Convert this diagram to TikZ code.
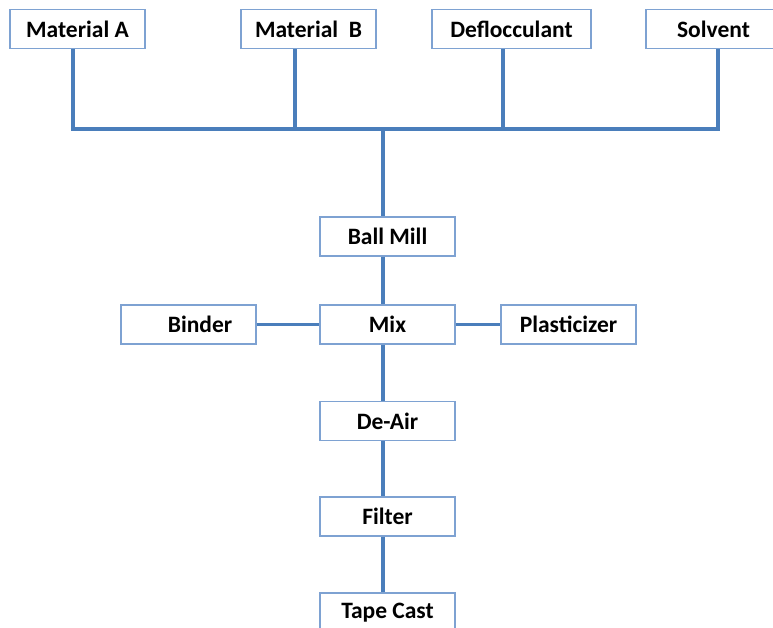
\documentclass[tikz,border=0pt]{standalone}
\usepackage{fontspec}
\setmainfont{Carlito}
\usepackage{xcolor}
\usepackage{tikz}
\usetikzlibrary{positioning,calc}
\definecolor{flowblue}{HTML}{4A7EBB}
\definecolor{edgeblue}{HTML}{7EA2D2}

\begin{document}
\begin{tikzpicture}[
  x=1pt, y=-1pt,
  stepbox/.style={rectangle, draw=edgeblue, line width=1.2pt, fill=white,
              minimum width=135pt, minimum height=39pt, inner sep=0pt,
              font=\fontsize{23.5}{26}\selectfont\bfseries, text=black, align=center},
  pipe/.style={flowblue, line width=3.6pt},
]
\clip (0,0) rectangle (773,627);
\useasboundingbox (0,0) rectangle (773,627);

% raw materials
\node[stepbox] (matA) at (77.5,29) {Material A};
\node[stepbox] (matB) at (308.5,29) {Material~~B};
\node[stepbox, minimum width=159pt] (defl) at (511.5,29) {Deflocculant};
\node[stepbox] (solv) at (713.5,29) {Solvent};

% collecting line
\coordinate (trunk) at (383,129);
\coordinate (dropA) at (73,129);
\coordinate (dropB) at (295,129);
\coordinate (dropD) at (503,129);
\coordinate (dropS) at (718,129);
\draw[pipe] (matA.south -| dropA) -- (dropA) -- (dropS) -- (solv.south -| dropS);
\draw[pipe] (matB.south -| dropB) -- (dropB);
\draw[pipe] (defl.south -| dropD) -- (dropD);

% process chain
\node[stepbox] (mill) at (387.5,236.5) {Ball Mill};
\node[stepbox] (mix) at (387.5,324.5) {Mix};
\node[stepbox] (binder) at (188.5,324.5) {\hspace*{23pt}Binder};
\node[stepbox] (plast) at (568.5,324.5) {Plasticizer};
\node[stepbox] (deair) at (387.5,421) {De-Air};
\node[stepbox] (filter) at (387.5,516.5) {Filter};
\node[stepbox] (tape) at (387.5,612.5) {Tape Cast};

\draw[pipe] (trunk) -- (mill.north -| trunk);
\draw[pipe] (mill.south -| trunk) -- (mix.north -| trunk);
\draw[pipe] (binder) -- (mix);
\draw[pipe] (mix) -- (plast);
\draw[pipe] (mix.south -| trunk) -- (deair.north -| trunk);
\draw[pipe] (deair.south -| trunk) -- (filter.north -| trunk);
\draw[pipe] (filter.south -| trunk) -- (tape.north -| trunk);

\end{tikzpicture}
\end{document}
